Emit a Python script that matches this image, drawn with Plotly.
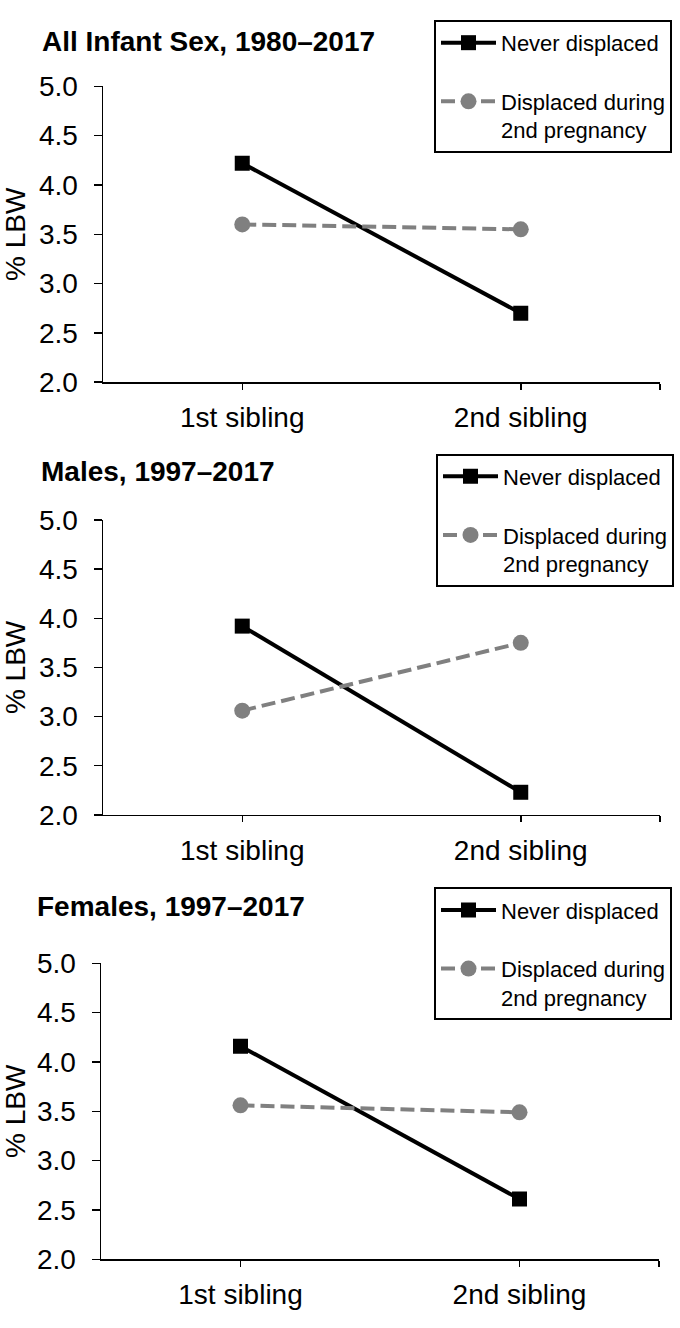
import plotly.graph_objects as go

categories = ["1st sibling", "2nd sibling"]
panel_titles = ["All Infant Sex, 1980–2017", "Males, 1997–2017", "Females, 1997–2017"]
never_displaced = [
    [4.22, 2.70],
    [3.92, 2.23],
    [4.16, 2.61],
]
displaced_2nd = [
    [3.60, 3.55],
    [3.06, 3.75],
    [3.56, 3.49],
]
y_ticks = [2.0, 2.5, 3.0, 3.5, 4.0, 4.5, 5.0]
series_names = ["Never displaced", "Displaced during<br>2nd pregnancy"]

W, H = 680, 1328
FONT = "Liberation Sans, Arial, sans-serif"

# pixel layout of each panel: (x_left, x_right, y_top, y_bottom, title_x, title_y, legend_right, legend_top)
panels = [
    (103, 660, 73, 376, 40, 27, 672, 5),
    (103, 660, 517, 819, 39, 467, 674, 449),
    (101, 659, 971, 1274, 35, 913, 672, 893),
]

fig = go.Figure()
layout = dict(
    width=W, height=H,
    margin=dict(l=0, r=0, t=0, b=0),
    paper_bgcolor="white", plot_bgcolor="white",
    font=dict(family=FONT, color="black"),
    annotations=[],
)

for i, (xl, xr, yt, yb, tx, ty, lr, lt) in enumerate(panels):
    sfx = "" if i == 0 else str(i + 1)
    xa, ya = "x" + sfx, "y" + sfx
    lg = "legend" + sfx
    xpos = list(range(len(categories)))
    fig.add_trace(go.Scatter(
        x=xpos, y=never_displaced[i], name=series_names[0],
        mode="lines+markers", xaxis=xa, yaxis=ya, legend=lg,
        legendgroup=f"n{i}",
        line=dict(color="black", width=4),
        marker=dict(symbol="square", size=15, color="black"),
    ))
    fig.add_trace(go.Scatter(
        x=xpos, y=displaced_2nd[i], name=series_names[1],
        mode="lines+markers", xaxis=xa, yaxis=ya, legend=lg,
        legendgroup=f"d{i}",
        line=dict(color="#808080", width=4, dash="14px,6px"),
        marker=dict(symbol="circle", size=16, color="#808080"),
    ))
    layout["xaxis" + sfx] = dict(
        domain=[xl / W, xr / W], anchor=ya,
        range=[-0.5, 1.5],
        tickvals=xpos + [1.5], ticktext=categories + [""],
        ticks="outside", ticklen=6, tickwidth=1.5, tickcolor="black",
        showline=True, linecolor="black", linewidth=1.5,
        showgrid=False, zeroline=False,
        tickfont=dict(size=28, family=FONT, color="black"),
        ticklabelstandoff=4,
        fixedrange=True,
    )
    layout["yaxis" + sfx] = dict(
        domain=[1 - yb / H, 1 - yt / H], anchor=xa,
        range=[2.0, 5.0],
        tickvals=y_ticks, tickformat=".1f",
        ticks="outside", ticklen=8, tickwidth=1.5, tickcolor="black",
        showline=True, linecolor="black", linewidth=1.5,
        showgrid=False, zeroline=False,
        tickfont=dict(size=28, family=FONT, color="black"),
        ticklabelstandoff=10,
        title=dict(text="% LBW", font=dict(size=28, family=FONT, color="black"), standoff=10),
        fixedrange=True,
    )
    layout[lg] = dict(
        x=lr / W, y=1 - lt / H, xanchor="right", yanchor="top",
        bordercolor="black", borderwidth=2, bgcolor="white",
        font=dict(size=22, family=FONT, color="black"),
        traceorder="grouped", tracegroupgap=27, valign="top",
        itemwidth=55,
    )
    layout["annotations"].append(dict(
        text=f"<b>{panel_titles[i]}</b>", x=tx / W, y=1 - ty / H,
        xref="paper", yref="paper", xanchor="left", yanchor="middle",
        showarrow=False, font=dict(size=28, family=FONT, color="black"),
    ))

fig.update_layout(**layout)
fig.write_html(
    "out.html",
    config={"displayModeBar": False, "staticPlot": True},
    post_script="document.body.style.margin='0';document.body.style.overflow='hidden';",
)
